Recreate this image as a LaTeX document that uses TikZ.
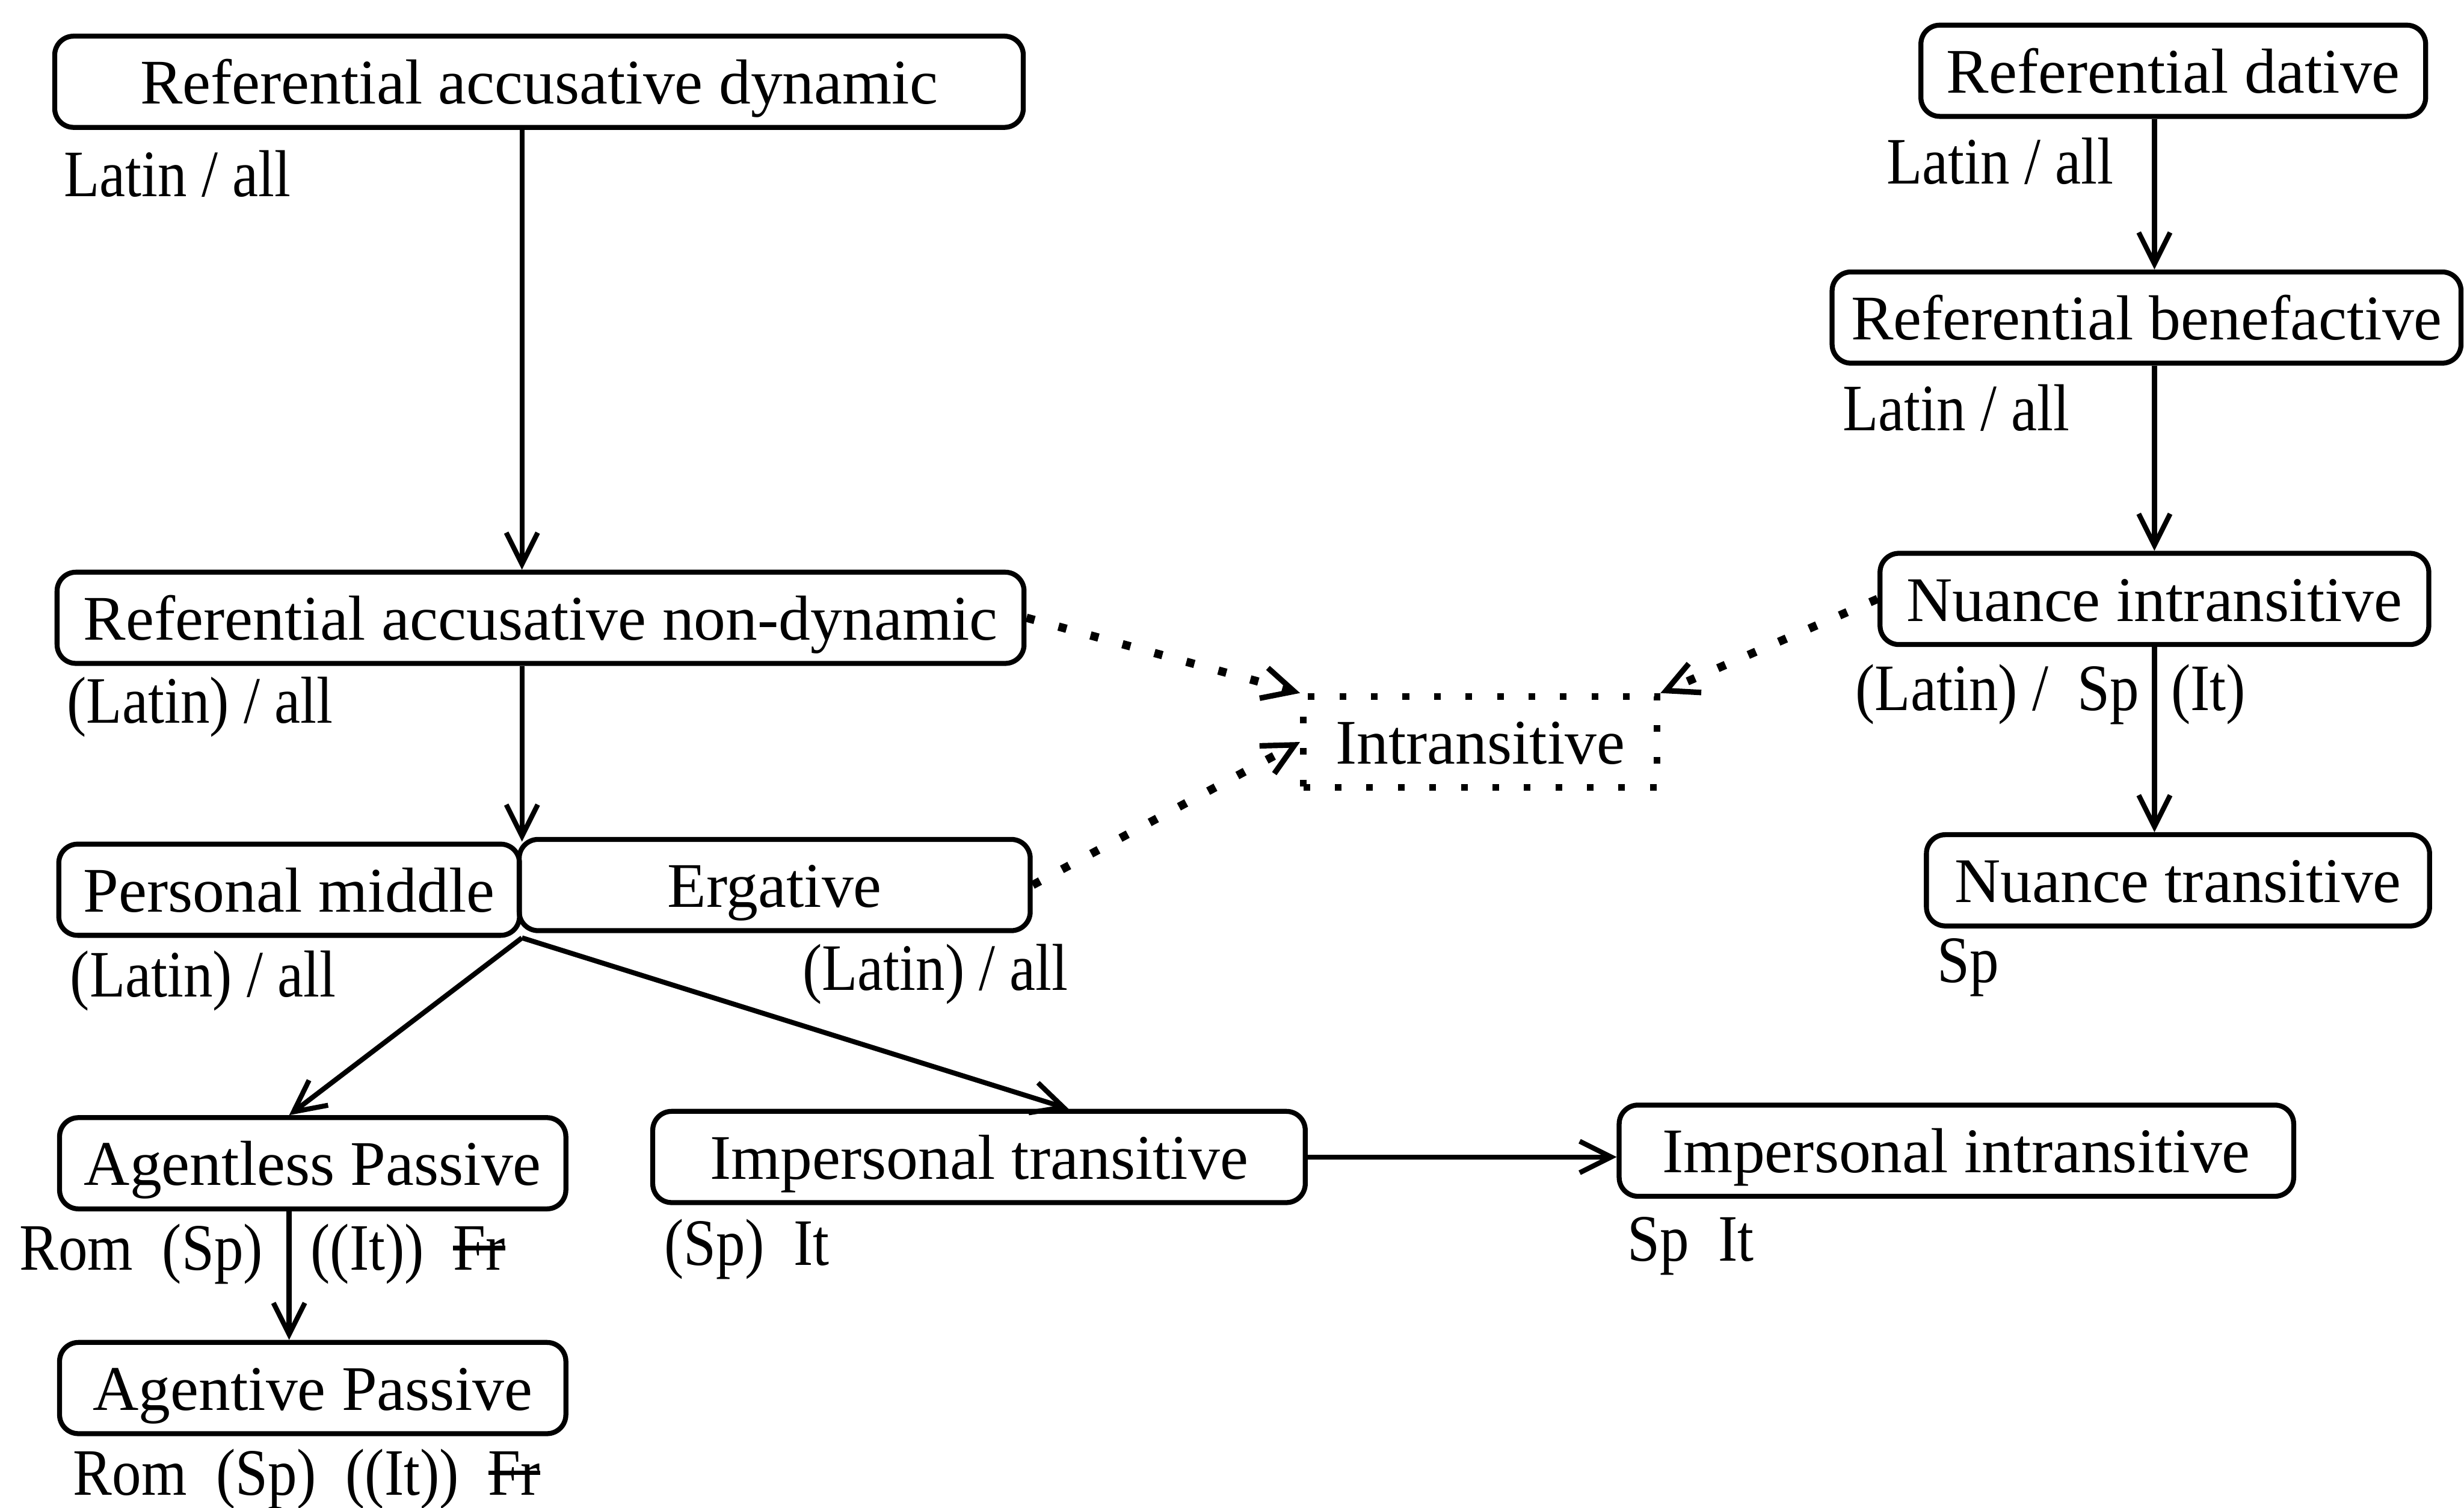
\documentclass[tikz,border=0pt]{standalone}
\usepackage{fontspec}
\setmainfont{Liberation Serif}
\newfontfamily\lblfam[FakeStretch=0.88]{Liberation Serif}
\newcommand\strk[1]{\setbox0\hbox{#1}\rlap{\rule[0.3em]{\wd0}{0.07em}}\box0}
\usepackage{tikz}
\usetikzlibrary{positioning,arrows.meta,calc}

\begin{document}
\begin{tikzpicture}[x=0.01cm,y=-0.01cm,
      box/.style={draw,rounded corners=0.12cm,line width=0.9pt,minimum height=0.58cm,inner sep=0pt,
        text height=0.8em,text depth=0pt,font=\fontsize{11.5}{13}\selectfont},
      lbl/.style={anchor=base west,inner sep=0pt,font=\lblfam\fontsize{12}{14}\selectfont},
      arr/.style={-{Straight Barb[length=2mm,width=2mm,line width=0.9pt]},line width=0.9pt},
      dots/.style={-{Straight Barb[length=2mm,width=2mm,line width=1pt]},line width=1.5pt,dash pattern=on 1.5pt off 4.5pt}]

    \useasboundingbox (0,0) rectangle (1568,959);

    \node[box,minimum width=6.16cm] (rad) at (343,52) {Referential accusative dynamic};
    \node[box,minimum width=6.15cm] (ran) at (344,393) {Referential accusative non-dynamic};
    \node[box,minimum width=2.93cm] (pm) at (184,566) {Personal middle};
    \node[box,minimum width=3.25cm] (erg) at (493,563) {Ergative};
    \node[box,minimum width=3.22cm] (alp) at (199,740) {Agentless Passive};
    \node[box,minimum width=3.22cm] (agp) at (199,883) {Agentive Passive};
    \node[box,minimum width=4.15cm] (itr) at (623,736) {Impersonal transitive};
    \node[box,minimum width=4.29cm] (iin) at (1245,732) {Impersonal intransitive};

    \node[box,minimum width=3.21cm] (rd) at (1383,45) {Referential dative};
    \node[box,minimum width=4.0cm] (rb) at (1366,202) {Referential benefactive};
    \node[box,minimum width=3.49cm] (ni) at (1371,381) {Nuance intransitive};
    \node[box,minimum width=3.2cm] (nt) at (1386,560) {Nuance transitive};

    \node[draw,line width=1.2pt,dash pattern=on 1.2pt off 4.5pt,minimum width=2.25cm,minimum height=0.58cm,
      inner sep=0pt,text height=0.8em,text depth=0pt,font=\fontsize{11.5}{13}\selectfont] (intr) at (942,472) {Intransitive};

    \node[lbl] (lrad) at (40,125) {Latin / all};
    \node[lbl] (lran) at (42,460) {(Latin) / all};
    \node[lbl] (lpm) at (44,634) {(Latin) / all};
    \node[lbl] (lerg) at (510,630) {(Latin) / all};
    \node[lbl,anchor=base east] (lalpa) at (168,808) {Rom~~(Sp)};
    \node[lbl] (lalpb) at (197,808) {((It))~~\strk{Fr}};
    \node[lbl] (lagp) at (46,951) {Rom~~(Sp)~~((It))~~\strk{Fr}};
    \node[lbl] (litr) at (422,805) {(Sp)~~It};
    \node[lbl] (liin) at (1035,802) {Sp~~It};
    \node[lbl] (lrd) at (1200,117) {Latin / all};
    \node[lbl] (lrb) at (1172,274) {Latin / all};
    \node[lbl,anchor=base east] (lnia) at (1362,452) {(Latin) /~~Sp};
    \node[lbl] (lnib) at (1381,452) {(It)};
    \node[lbl] (lnt) at (1232,625) {Sp};

    \coordinate (jn) at (pm.south east);

    \draw[arr] (rad.south -| pm.north east) -- (ran.north -| pm.north east);
    \draw[arr] (ran.south -| pm.north east) -- (pm.north east);
    \draw[arr] (jn) -- ([xshift=-0.15cm]alp.north);
    \draw[arr] (jn) -- ([xshift=0.57cm]itr.north);
    \draw[arr] ([xshift=-0.15cm]alp.south) -- ([xshift=-0.15cm]agp.north);
    \draw[arr] (itr.east) -- (itr.east -| iin.west);

    \draw[arr] (rd.south -| ni.north) -- (rb.north -| ni.north);
    \draw[arr] (rb.south -| ni.north) -- (ni.north);
    \draw[arr] (ni.south) -- (nt.north -| ni.south);

    \draw[dots] (ran.east) -- (intr.north west);
    \draw[dots] (ni.west) -- (intr.north east);
    \draw[dots] (erg.east) -- (intr.west);
  \end{tikzpicture}
\end{document}
